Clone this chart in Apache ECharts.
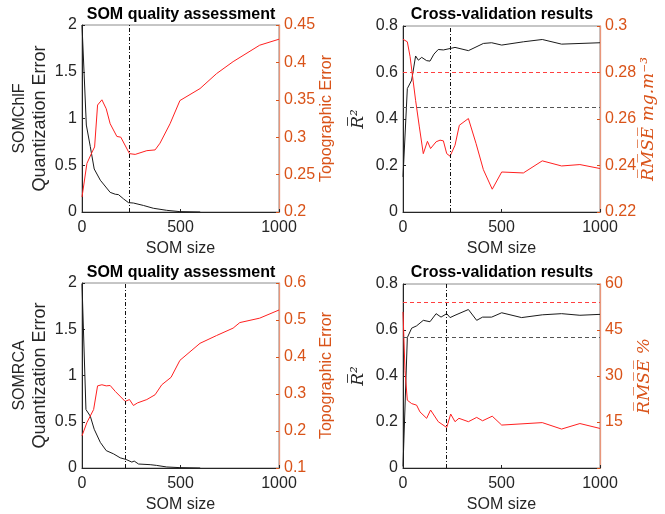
<!DOCTYPE html>
<html>
<head>
<meta charset="utf-8">
<script src="https://cdn.jsdelivr.net/npm/echarts@6/dist/echarts.min.js"></script>
<style>
html,body{margin:0;padding:0;background:#fff;}
#c{width:665px;height:514px;}
</style>
</head>
<body>
<div id="c"></div>
<script>
// ---------- Data ----------
// Panel 1: SOMChlF quality
const qe1X = [0, 22, 42, 62, 93, 143, 169, 185, 211, 236, 261, 312, 362, 430, 497, 600];
const qe1Y = [2.0, 0.93, 0.70, 0.46, 0.34, 0.21, 0.19, 0.186, 0.14, 0.10, 0.096, 0.07, 0.04, 0.018, 0.004, 0.0];
const te1X = [0, 25, 51, 64, 79, 101, 123, 143, 177, 197, 241, 270, 329, 371, 396, 447, 497, 599, 683, 767, 902, 1000];
const te1Y = [0.220, 0.265, 0.280, 0.287, 0.343, 0.350, 0.338, 0.318, 0.301, 0.300, 0.278, 0.277, 0.282, 0.283, 0.292, 0.318, 0.349, 0.365, 0.385, 0.401, 0.423, 0.431];
const sel1 = 240;

// Panel 2: SOMChlF cross-validation
const r21X = [0, 22, 44, 64, 78, 95, 120, 137, 157, 179, 205, 244, 264, 332, 408, 450, 501, 611, 707, 805, 1000];
const r21Y = [0.151, 0.531, 0.567, 0.671, 0.653, 0.665, 0.651, 0.649, 0.679, 0.699, 0.697, 0.704, 0.708, 0.694, 0.725, 0.728, 0.718, 0.732, 0.742, 0.722, 0.728];
const rm1X = [0, 22, 36, 64, 83, 103, 124, 140, 168, 188, 205, 222, 239, 247, 264, 286, 332, 371, 408, 453, 501, 611, 707, 805, 898, 1000];
const rm1Y = [0.2943, 0.2932, 0.2868, 0.268, 0.2566, 0.2451, 0.2504, 0.2473, 0.2502, 0.2509, 0.2506, 0.2451, 0.2440, 0.2448, 0.2487, 0.2573, 0.2602, 0.2494, 0.2382, 0.2298, 0.2372, 0.2368, 0.2420, 0.2398, 0.2404, 0.2387];
const ref1R2 = 0.452;
const ref1RMSE = 0.2759;

// Panel 3: SOMRCA quality
const qe2X = [0, 20, 42, 62, 93, 123, 160, 194, 224, 253, 265, 287, 346, 379, 430, 497, 600];
const qe2Y = [1.99, 0.632, 0.561, 0.419, 0.277, 0.188, 0.153, 0.110, 0.092, 0.064, 0.075, 0.043, 0.036, 0.028, 0.011, 0.004, 0.0];
const te2X = [0, 25, 59, 79, 101, 123, 143, 169, 197, 219, 241, 261, 282, 329, 371, 405, 452, 497, 599, 683, 767, 801, 902, 1000];
const te2Y = [0.187, 0.223, 0.258, 0.322, 0.325, 0.322, 0.323, 0.307, 0.292, 0.280, 0.285, 0.269, 0.276, 0.285, 0.298, 0.325, 0.345, 0.391, 0.437, 0.458, 0.478, 0.493, 0.505, 0.527];
const sel2 = 220;

// Panel 4: SOMRCA cross-validation
const r22X = [0, 22, 44, 69, 103, 137, 168, 193, 222, 239, 264, 332, 374, 404, 450, 501, 602, 707, 805, 898, 1000];
const r22Y = [0.007, 0.567, 0.608, 0.618, 0.642, 0.636, 0.671, 0.656, 0.671, 0.654, 0.664, 0.689, 0.642, 0.656, 0.656, 0.675, 0.654, 0.666, 0.671, 0.664, 0.668];
const rm2X = [0, 10, 22, 44, 69, 86, 120, 140, 179, 222, 242, 264, 284, 332, 374, 404, 453, 501, 707, 805, 898, 1000];
const rm2Y = [50.9, 31.8, 22.1, 21.0, 20.5, 18.3, 16.2, 18.9, 15.1, 13.2, 17.6, 15.1, 16.2, 15.1, 16.5, 15.4, 16.9, 14.0, 14.8, 12.7, 14.5, 12.9];
const ref2R2 = 0.567;
const ref2RMSE = 53.9;

// ---------- Styling ----------
const ORANGE = '#D95319';
const ORANGE_LINE = '#E9967A';
const DARK = '#262626';
const FONT = 'Liberation Sans, Arial, Helvetica, sans-serif';
const SERIF = 'DejaVu Serif, Liberation Serif, serif';
const OL = '\u0305';
const over = s => s.split('').map(c => c + OL).join('');
const plain = v => String(Math.round(v * 1000) / 1000);

const zip = (xs, ys) => xs.map((x, i) => [x, ys[i]]);

const grids = [
  {left: 82, top: 25, width: 197, height: 187},
  {left: 403, top: 26, width: 197, height: 186},
  {left: 82, top: 283, width: 197, height: 188},
  {left: 403, top: 284, width: 197, height: 186}
];

function xAx(i) {
  return {
    type: 'value', gridIndex: i, min: 0, max: 1000, interval: 500,
    name: 'SOM size', nameLocation: 'middle', nameGap: 29,
    nameTextStyle: {fontSize: 16, color: DARK, fontFamily: FONT},
    axisLine: {lineStyle: {color: DARK, width: 1}},
    axisTick: {inside: true, length: 3, lineStyle: {color: DARK}},
    axisLabel: {fontSize: 16, color: DARK, fontFamily: FONT, margin: 8, formatter: plain},
    splitLine: {show: false}
  };
}
function leftAx(i, min, max, interval, name, nameGap, nameStyle) {
  return {
    type: 'value', gridIndex: i, position: 'left', min, max, interval,
    name, nameLocation: 'middle', nameGap, nameRotate: 90,
    nameTextStyle: Object.assign({fontSize: 16, color: DARK, fontFamily: FONT}, nameStyle || {}),
    axisLine: {show: true, onZero: false, lineStyle: {color: DARK, width: 1}},
    axisTick: {show: true, inside: true, length: 3, lineStyle: {color: DARK}},
    axisLabel: {fontSize: 16, color: DARK, fontFamily: FONT, margin: 5, formatter: plain},
    splitLine: {show: false}
  };
}
function rightAx(i, min, max, interval, name, nameGap, nameStyle, fmt) {
  return {
    type: 'value', gridIndex: i, position: 'right', min, max, interval,
    name, nameLocation: 'middle', nameGap, nameRotate: 90,
    nameTextStyle: Object.assign({fontSize: 16, color: ORANGE, fontFamily: FONT}, nameStyle || {}),
    axisLine: {show: true, onZero: false, lineStyle: {color: ORANGE_LINE, width: 1.3}},
    axisTick: {show: true, inside: true, length: 3, lineStyle: {color: ORANGE}},
    axisLabel: {fontSize: 16, color: ORANGE, fontFamily: FONT, margin: 5, formatter: fmt || plain},
    splitLine: {show: false}
  };
}

function line(xi, yi, data, color, extra) {
  return Object.assign({
    type: 'line', xAxisIndex: xi, yAxisIndex: yi, data,
    showSymbol: false, symbol: 'none', animation: false,
    lineStyle: {color, width: 1}, itemStyle: {color}, z: 3
  }, extra || {});
}
const VSTYLE = {color: '#111', width: 1, type: [4, 2, 1, 2]};
function vline(x) {
  return {
    silent: true, symbol: 'none', animation: false, label: {show: false},
    lineStyle: VSTYLE, data: [{xAxis: x}]
  };
}
function hline(y, color) {
  return {
    silent: true, symbol: 'none', animation: false, label: {show: false},
    lineStyle: {color, width: 1.2, type: [4, 3]},
    data: [{yAxis: y}]
  };
}

const qeName = tag => ({
  text: '{a|' + tag + '}\n{b|Quantization Error}',
  style: {rich: {a: {fontSize: 16, fontFamily: FONT, color: DARK, lineHeight: 20},
                 b: {fontSize: 18, fontFamily: FONT, color: DARK, lineHeight: 20}}}
});
const q1 = qeName('SOMChlF'), q2 = qeName('SOMRCA');
const r2Name = over('R') + '\u0305\u00B2';
const mathStyle = {fontFamily: SERIF, fontStyle: 'italic', fontSize: 17};

const chart = echarts.init(document.getElementById('c'), null, {renderer: 'canvas'});

const option = {
  backgroundColor: '#fff',
  animation: false,
  grid: grids.map(g => Object.assign({show: true, borderColor: '#8c8c8c', borderWidth: 1, backgroundColor: 'transparent'}, g)),
  xAxis: [xAx(0), xAx(1), xAx(2), xAx(3)],
  yAxis: [
    leftAx(0, 0, 2, 0.5, q1.text, 32, q1.style),
    rightAx(0, 0.2, 0.45, 0.05, 'Topographic Error', 40),
    leftAx(1, 0, 0.8, 0.2, r2Name, 36, mathStyle),
    rightAx(1, 0.22, 0.3, 0.02, over('RMSE') + ' mg.m\u207B\u00B3', 36, mathStyle),
    leftAx(2, 0, 2, 0.5, q2.text, 32, q2.style),
    rightAx(2, 0.1, 0.6, 0.1, 'Topographic Error', 40),
    leftAx(3, 0, 0.8, 0.2, r2Name, 36, mathStyle),
    rightAx(3, 0, 60, 15, over('RMSE') + ' %', 36, mathStyle, v => v === 0 ? '' : String(v))
  ],
  series: [
    line(0, 0, zip(qe1X, qe1Y), '#1a1a1a', {markLine: vline(sel1)}),
    line(0, 1, zip(te1X, te1Y), '#FF2020'),
    line(1, 2, zip(r21X, r21Y), '#1a1a1a', {markLine: {
      silent: true, symbol: 'none', animation: false, label: {show: false},
      data: [
        {xAxis: sel1, lineStyle: VSTYLE},
        {yAxis: ref1R2, lineStyle: {color: '#555', width: 1.2, type: [4, 3]}}
      ]
    }}),
    line(1, 3, zip(rm1X, rm1Y), '#FF2020', {markLine: hline(ref1RMSE, '#FF4040')}),
    line(2, 4, zip(qe2X, qe2Y), '#1a1a1a', {markLine: vline(sel2)}),
    line(2, 5, zip(te2X, te2Y), '#FF2020'),
    line(3, 6, zip(r22X, r22Y), '#1a1a1a', {markLine: {
      silent: true, symbol: 'none', animation: false, label: {show: false},
      data: [
        {xAxis: sel2, lineStyle: VSTYLE},
        {yAxis: ref2R2, lineStyle: {color: '#555', width: 1.2, type: [4, 3]}}
      ]
    }}),
    line(3, 7, zip(rm2X, rm2Y), '#FF2020', {markLine: hline(ref2RMSE, '#FF4040')})
  ],
  graphic: [
    {type: 'text', x: 181, y: 7, style: {text: 'SOM quality assessment', textAlign: 'center', font: 'bold 16px ' + FONT, fill: '#000'}},
    {type: 'text', x: 502, y: 7, style: {text: 'Cross-validation results', textAlign: 'center', font: 'bold 16px ' + FONT, fill: '#000'}},
    {type: 'text', x: 181, y: 265, style: {text: 'SOM quality assessment', textAlign: 'center', font: 'bold 16px ' + FONT, fill: '#000'}},
    {type: 'text', x: 502, y: 265, style: {text: 'Cross-validation results', textAlign: 'center', font: 'bold 16px ' + FONT, fill: '#000'}}
  ]
};
chart.setOption(option);
</script>
</body>
</html>
